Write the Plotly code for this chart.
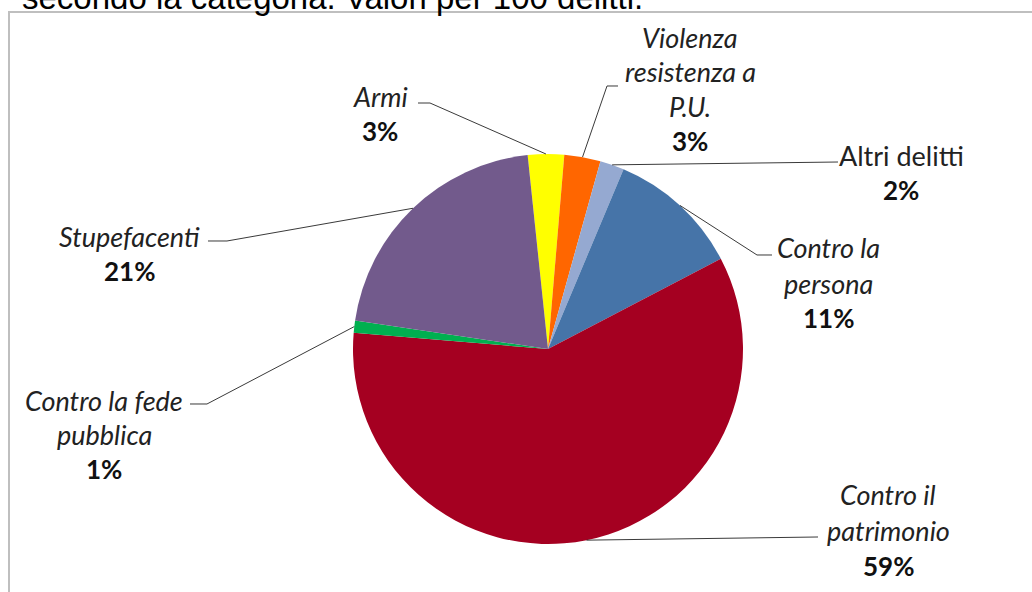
import math
import plotly.graph_objects as go

# Offence categories, clockwise from the top of the pie
categories = ["Armi", "Violenza resistenza a P.U.", "Altri delitti", "Contro la persona",
              "Contro il patrimonio", "Contro la fede pubblica", "Stupefacenti"]
shares = [3, 3, 2, 11, 59, 1, 21]
pct_labels = ["3%", "3%", "2%", "11%", "59%", "1%", "21%"]
# Italic category names split over lines as shown next to each slice
name_lines = [["Armi"], ["Violenza", "resistenza a", "P.U."], ["Altri delitti"],
              ["Contro la", "persona"], ["Contro il", "patrimonio"],
              ["Contro la fede", "pubblica"], ["Stupefacenti"]]
title_text = "secondo la categoria. Valori per 100 delitti."

colors = ["#FFFF00", "#FF6600", "#95A9D1", "#4674A8", "#A50021", "#00B050", "#725A8C"]

W, H = 1032, 592
CX, CY, R = 548, 349, 195          # pie centre and radius in pixels
START = -6                         # angle of the first slice edge, degrees clockwise from 12 o'clock

# Label block placement (centre x, y of first line, line step) and leader-line bends
label_pos = [
    dict(x=380, y0=96, step=35, bends=[(418, 103), (430, 103)], slice_first=False, upright=False),
    dict(x=690, y0=37, step=34.5, bends=[(607, 86), (618, 86)], slice_first=True, upright=False),
    dict(x=901, y0=156, step=34, bends=[(838, 162)], slice_first=True, upright=True),
    dict(x=828, y0=248, step=35, bends=[(757, 255), (772, 255)], slice_first=True, upright=False),
    dict(x=888, y0=494, step=36, bends=[(818, 537)], slice_first=True, upright=False),
    dict(x=104, y0=400, step=34.5, bends=[(190, 404), (207, 404)], slice_first=False, upright=False),
    dict(x=129, y0=236, step=35, bends=[(208, 241), (227, 241)], slice_first=False, upright=False),
]


def px(x, y):
    return x / W, 1 - y / H


fig = go.Figure(go.Pie(
    labels=categories, values=shares, sort=False, direction="clockwise", rotation=START,
    marker=dict(colors=colors, line=dict(width=0)),
    textinfo="none", hoverinfo="label+percent", showlegend=False,
    domain=dict(x=[(CX - R) / W, (CX + R) / W], y=[(H - CY - R) / H, (H - CY + R) / H]),
))

annotations = []
shapes = []
total = sum(shares)
cum = 0
for i, v in enumerate(shares):
    mid = math.radians(START + 360 * (cum + v / 2) / total)
    cum += v
    sx, sy = CX + R * math.sin(mid), CY - R * math.cos(mid)
    pos = label_pos[i]
    pts = [(sx, sy)] + pos["bends"] if pos["slice_first"] else pos["bends"] + [(sx, sy)]
    path = ""
    for k, (x, y) in enumerate(pts):
        xp, yp = px(x, y)
        path += ("M" if k == 0 else " L") + f" {xp:.5f} {yp:.5f}"
    shapes.append(dict(type="path", xref="paper", yref="paper", path=path,
                       line=dict(color="#3a3a3a", width=1)))

    y = pos["y0"]
    for line in name_lines[i]:
        xp, yp = px(pos["x"], y)
        annotations.append(dict(
            x=xp, y=yp, xref="paper", yref="paper", showarrow=False,
            xanchor="center", yanchor="middle",
            text=line if pos["upright"] else f"<i>{line}</i>",
            font=dict(family="Lato", size=27, color="#222222")))
        y += pos["step"]
    xp, yp = px(pos["x"], y)
    annotations.append(dict(
        x=xp, y=yp, xref="paper", yref="paper", showarrow=False,
        xanchor="center", yanchor="middle", text=f"<b>{pct_labels[i]}</b>",
        font=dict(family="Lato", size=26, color="#111111")))

# Heading, partly cut by the top edge of the page
tx, ty = px(20, -3)
annotations.append(dict(x=tx, y=ty, xref="paper", yref="paper", showarrow=False,
                        xanchor="left", yanchor="middle", text=title_text,
                        font=dict(family="Liberation Sans", size=33, color="#000000")))

# Chart-area frame
x0, y0 = px(9, 12)
shapes.append(dict(type="rect", xref="paper", yref="paper", x0=x0, y0=y0, x1=1.2, y1=-0.2,
                   line=dict(color="#BFBFBF", width=2), layer="below"))

fig.update_layout(width=W, height=H, margin=dict(l=0, r=0, t=0, b=0),
                  paper_bgcolor="white", plot_bgcolor="white",
                  annotations=annotations, shapes=shapes)

fig.write_html("out.html")
